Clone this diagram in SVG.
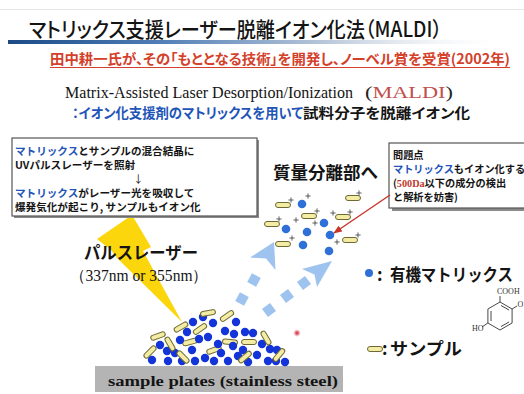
<svg xmlns="http://www.w3.org/2000/svg" width="524" height="394" viewBox="0 0 524 394">
  <defs>
    <linearGradient id="ruleGrad" x1="0" y1="0" x2="1" y2="0">
      <stop offset="0" stop-color="#1b4a86"/>
      <stop offset="0.3" stop-color="#4f7cb5"/>
      <stop offset="0.65" stop-color="#b9c8da"/>
      <stop offset="1" stop-color="#f2f2f2" stop-opacity="0"/>
    </linearGradient>
    <radialGradient id="spotGrad">
      <stop offset="0" stop-color="#d0202a"/>
      <stop offset="0.45" stop-color="#e06070" stop-opacity="0.8"/>
      <stop offset="1" stop-color="#f4b0b8" stop-opacity="0"/>
    </radialGradient>
    <rect id="pill" x="-7.5" y="-2.5" width="15" height="5" rx="2.5"/>
    <path id="plus" d="M-2.6,0H2.6M0,-2.6V2.6"/>
    <rect id="sq" x="-5" y="-5" width="10" height="10"/>
    <marker id="redHead" viewBox="0 0 10 8" refX="9" refY="4" markerWidth="9" markerHeight="7" markerUnits="userSpaceOnUse" orient="auto">
      <path d="M0,0L10,4L0,8Z" fill="#c8342a"/>
    </marker>
  </defs>
  <style>
    .jp{font-family:"Noto Sans CJK JP","Noto Sans CJK SC",sans-serif}
    .palt{font-feature-settings:"palt"}
    .b{font-weight:700}
    .serif{font-family:"Liberation Serif","Times New Roman",serif}
    .blue{fill:#1f55b8}
    .ink{fill:#141414}
    .red{fill:#d4402a}
    .pills use{fill:#f3eca4;stroke:#6e6832;stroke-width:1}
    .plus use{stroke:#3a3a3a;stroke-width:0.8;fill:none}
    .fdot circle{fill:#2f6fd8}
    .hdot circle{fill:#1234d8}
    .box{fill:#ffffff;stroke:#555555;stroke-width:1.2}
    .shadow{fill:#8a8a8a}
    .flow use,.flow path{fill:#93bdec;fill-opacity:0.9}
    .chem line{stroke:#333333;stroke-width:0.9}
  </style>

  <rect width="524" height="394" fill="#ffffff"/>

  <!-- header -->
  <g id="header">
    <line x1="0" y1="9.5" x2="524" y2="9.5" stroke="#e6e6e6" stroke-width="1"/>
    <rect x="8" y="40" width="490" height="4" fill="url(#ruleGrad)"/>
    <text class="jp palt ink" x="29" y="37" font-size="21" font-weight="500" textLength="413" lengthAdjust="spacingAndGlyphs">マトリックス支援レーザー脱離イオン化法（MALDI）</text>
    <text class="jp palt b red" x="50" y="64" font-size="14" textLength="460" lengthAdjust="spacingAndGlyphs">田中耕一氏が、その「もととなる技術」を開発し、ノーベル賞を受賞(2002年)</text>
    <line x1="50" y1="67.5" x2="510" y2="67.5" stroke="#d4402a" stroke-width="1"/>
    <text class="serif ink" x="65" y="98" font-size="16.5" textLength="288" lengthAdjust="spacingAndGlyphs">Matrix-Assisted Laser Desorption/Ionization</text>
    <text class="serif" x="365" y="98" font-size="16.5" textLength="88" lengthAdjust="spacingAndGlyphs"><tspan fill="#222">(</tspan><tspan fill="#c0504d">MALDI</tspan><tspan fill="#222">)</tspan></text>
    <text class="jp palt b blue" x="72" y="118" font-size="14" textLength="231" lengthAdjust="spacingAndGlyphs">：イオン化支援剤のマトリックスを用いて</text>
    <text class="jp palt b ink" x="303" y="118" font-size="14" textLength="167" lengthAdjust="spacingAndGlyphs">試料分子を脱離イオン化</text>
  </g>

  <!-- laser bolt -->
  <g id="laser">
    <polygon points="97,239 132,215 151,247 143,251 182,322 117,258 111,250" fill="#fbd60c"/>
    <text class="jp b ink" x="84" y="259" font-size="17" textLength="114" lengthAdjust="spacingAndGlyphs">パルスレーザー</text>
    <text class="serif ink" x="70" y="281" font-size="16" textLength="138" lengthAdjust="spacingAndGlyphs">（337nm or 355nm）</text>
  </g>

  <!-- note on the process -->
  <g id="process-note">
    <rect class="shadow" x="14" y="140" width="245" height="78"/>
    <rect class="box" x="12" y="138" width="245" height="78"/>
    <g class="jp b" font-size="10.6">
      <text x="15" y="155"><tspan class="blue">マトリックス</tspan><tspan class="ink">とサンプルの混合結晶に</tspan></text>
      <text class="ink" x="15" y="169">UVパルスレーザーを照射</text>
      <text class="ink" x="133" y="183" font-weight="400">↓</text>
      <text x="15" y="197"><tspan class="blue">マトリックス</tspan><tspan class="ink">がレーザー光を吸収して</tspan></text>
      <text class="ink" x="15" y="211">爆発気化が起こり, サンプルもイオン化</text>
    </g>
  </g>

  <!-- destination label -->
  <g id="analyzer-label">
    <text class="jp b ink" x="273" y="179" font-size="17.5" textLength="105" lengthAdjust="spacingAndGlyphs">質量分離部へ</text>
  </g>

  <!-- problem note -->
  <g id="problem-note">
    <rect class="shadow" x="392" y="146" width="140" height="65"/>
    <rect class="box" x="389" y="143" width="140" height="65"/>
    <g class="jp b" font-size="10.2">
      <text class="ink" x="393" y="159">問題点</text>
      <text x="393" y="173"><tspan class="blue">マトリックス</tspan><tspan class="ink">もイオン化する</tspan></text>
      <text x="393" y="187"><tspan class="ink">(</tspan><tspan class="serif" fill="#c0392b">500Da</tspan><tspan class="ink">以下の成分の検出</tspan></text>
      <text class="ink" x="393" y="201">と解析を妨害)</text>
    </g>
  </g>

  <!-- dotted flow arrows toward the analyzer -->
  <g id="flow-arrows" class="flow">
    <use href="#sq" transform="translate(242,299) rotate(28)"/>
    <use href="#sq" transform="translate(254,280) rotate(28)"/>
    <path d="M274,242 L275.5,270 L266,258.5 L250,257.5 Z"/>
    <use href="#sq" transform="translate(269,310) rotate(53)"/>
    <use href="#sq" transform="translate(287,296) rotate(53)"/>
    <use href="#sq" transform="translate(304,283) rotate(53)"/>
    <path d="M332,261 L317,287 L314.5,274.5 L302,269 Z"/>
  </g>

  <!-- ionised plume -->
  <g id="plume">
    <g class="pills">
      <use href="#pill" x="283" y="205"/>
      <use href="#pill" x="353" y="198"/>
      <use href="#pill" x="272" y="224"/>
      <use href="#pill" x="309" y="216"/>
      <use href="#pill" x="343" y="217"/>
      <use href="#pill" x="283" y="244"/>
      <use href="#pill" x="350" y="240"/>
    </g>
    <g class="fdot">
      <circle cx="302" cy="204" r="4.3"/>
      <circle cx="286" cy="229" r="4.3"/>
      <circle cx="307" cy="232" r="4.3"/>
      <circle cx="324" cy="223" r="4.3"/>
      <circle cx="330" cy="235" r="4.3"/>
      <circle cx="303" cy="245" r="4.3"/>
      <circle cx="329" cy="251" r="4.3"/>
    </g>
    <g class="plus">
      <use href="#plus" x="291" y="200"/>
      <use href="#plus" x="308" y="196"/>
      <use href="#plus" x="359" y="193"/>
      <use href="#plus" x="279" y="219"/>
      <use href="#plus" x="296" y="220"/>
      <use href="#plus" x="317" y="211"/>
      <use href="#plus" x="315" y="223"/>
      <use href="#plus" x="333" y="213"/>
      <use href="#plus" x="350" y="212"/>
      <use href="#plus" x="337" y="242"/>
      <use href="#plus" x="292" y="238"/>
      <use href="#plus" x="358" y="235"/>
    </g>
  </g>

  <!-- sample plate -->
  <g id="plate">
    <rect x="95" y="366" width="248" height="26" fill="#b4b4b4"/>
    <text class="serif b ink" x="108" y="386" font-size="15.5" textLength="230" lengthAdjust="spacingAndGlyphs">sample plates (stainless steel)</text>
  </g>

  <!-- mixed crystal heap -->
  <g id="heap">
    <g class="pills">
      <use href="#pill" transform="translate(158,336) rotate(-20)"/>
      <use href="#pill" transform="translate(190,342) rotate(-15)"/>
      <use href="#pill" transform="translate(230,342) rotate(5)"/>
      <use href="#pill" transform="translate(214,350) rotate(-20)"/>
    </g>
    <g class="hdot">
      <circle cx="152" cy="360" r="4.2"/>
      <circle cx="160" cy="345" r="4.2"/>
      <circle cx="167" cy="351" r="4.2"/>
      <circle cx="168" cy="361" r="4.2"/>
      <circle cx="175" cy="353" r="4.2"/>
      <circle cx="180" cy="340" r="4.2"/>
      <circle cx="182" cy="361" r="4.2"/>
      <circle cx="187" cy="332" r="4.2"/>
      <circle cx="192" cy="350" r="4.2"/>
      <circle cx="195" cy="361" r="4.2"/>
      <circle cx="193" cy="322" r="4.2"/>
      <circle cx="199" cy="339" r="4.2"/>
      <circle cx="203" cy="317" r="4.2"/>
      <circle cx="205" cy="358" r="4.2"/>
      <circle cx="208" cy="337" r="4.2"/>
      <circle cx="213" cy="323" r="4.2"/>
      <circle cx="214" cy="361" r="4.2"/>
      <circle cx="218" cy="344" r="4.2"/>
      <circle cx="221" cy="353" r="4.2"/>
      <circle cx="225" cy="331" r="4.2"/>
      <circle cx="228" cy="361" r="4.2"/>
      <circle cx="233" cy="346" r="4.2"/>
      <circle cx="236" cy="322" r="4.2"/>
      <circle cx="234" cy="334" r="4.2"/>
      <circle cx="238" cy="356" r="4.2"/>
      <circle cx="245" cy="332" r="4.2"/>
      <circle cx="243" cy="350" r="4.2"/>
      <circle cx="248" cy="362" r="4.2"/>
      <circle cx="253" cy="333" r="4.2"/>
      <circle cx="257" cy="355" r="4.2"/>
      <circle cx="262" cy="344" r="4.2"/>
      <circle cx="270" cy="349" r="4.2"/>
      <circle cx="268" cy="361" r="4.2"/>
      <circle cx="277" cy="350" r="4.2"/>
      <circle cx="276" cy="361" r="4.2"/>
      <circle cx="285" cy="362" r="4.2"/>
    </g>
    <g class="pills">
      <use href="#pill" transform="translate(208,313) rotate(-10)"/>
      <use href="#pill" transform="translate(227,316) rotate(-35)"/>
      <use href="#pill" transform="translate(181,327) rotate(-30)"/>
      <use href="#pill" transform="translate(200,329) rotate(-35)"/>
      <use href="#pill" transform="translate(170,344) rotate(60)"/>
      <use href="#pill" transform="translate(249,342)"/>
      <use href="#pill" transform="translate(266,338) rotate(60)"/>
      <use href="#pill" transform="translate(150,352) rotate(-45)"/>
      <use href="#pill" transform="translate(183,357) rotate(45)"/>
      <use href="#pill" transform="translate(245,357) rotate(-40)"/>
      <use href="#pill" transform="translate(279,355) rotate(-50)"/>
    </g>
  </g>

  <!-- laser spot -->
  <circle cx="297" cy="333" r="4" fill="url(#spotGrad)"/>

  <!-- legend -->
  <g id="legend-matrix">
    <circle cx="369" cy="273" r="4" fill="#2f6fd8"/>
    <text class="jp b ink" x="377" y="281" font-size="17">:</text>
    <text class="jp b ink" x="390" y="281" font-size="17" textLength="123" lengthAdjust="spacingAndGlyphs">有機マトリックス</text>
  </g>
  <g id="legend-dhb" class="chem">
    <polygon points="500,302 512.1,309 512.1,323 500,330 487.9,323 487.9,309" fill="none" stroke="#333" stroke-width="0.9"/>
    <line x1="491" y1="311" x2="491" y2="321"/>
    <line x1="509" y1="322" x2="501" y2="326.5"/>
    <line x1="501" y1="305.5" x2="509" y2="310"/>
    <line x1="500" y1="302" x2="500" y2="296"/>
    <line x1="512.1" y1="309" x2="517" y2="306"/>
    <line x1="487.9" y1="323" x2="482" y2="327"/>
    <text class="serif" x="497" y="294" font-size="8" fill="#333">COOH</text>
    <text class="serif" x="517.5" y="307" font-size="8" fill="#333">O</text>
    <text class="serif" x="472" y="331" font-size="8" fill="#333">HO</text>
  </g>
  <g id="legend-sample">
    <use href="#pill" x="375" y="349" fill="#f3eca4" stroke="#6e6832" stroke-width="1"/>
    <text class="jp b ink" x="382" y="355" font-size="17">:</text>
    <text class="jp b ink" x="390" y="355" font-size="17" textLength="72" lengthAdjust="spacingAndGlyphs">サンプル</text>
  </g>

  <!-- connectors -->
  <g id="connectors">
    <line x1="390" y1="195" x2="334" y2="233" stroke="#c8342a" stroke-width="1.4" marker-end="url(#redHead)"/>
  </g>
</svg>
